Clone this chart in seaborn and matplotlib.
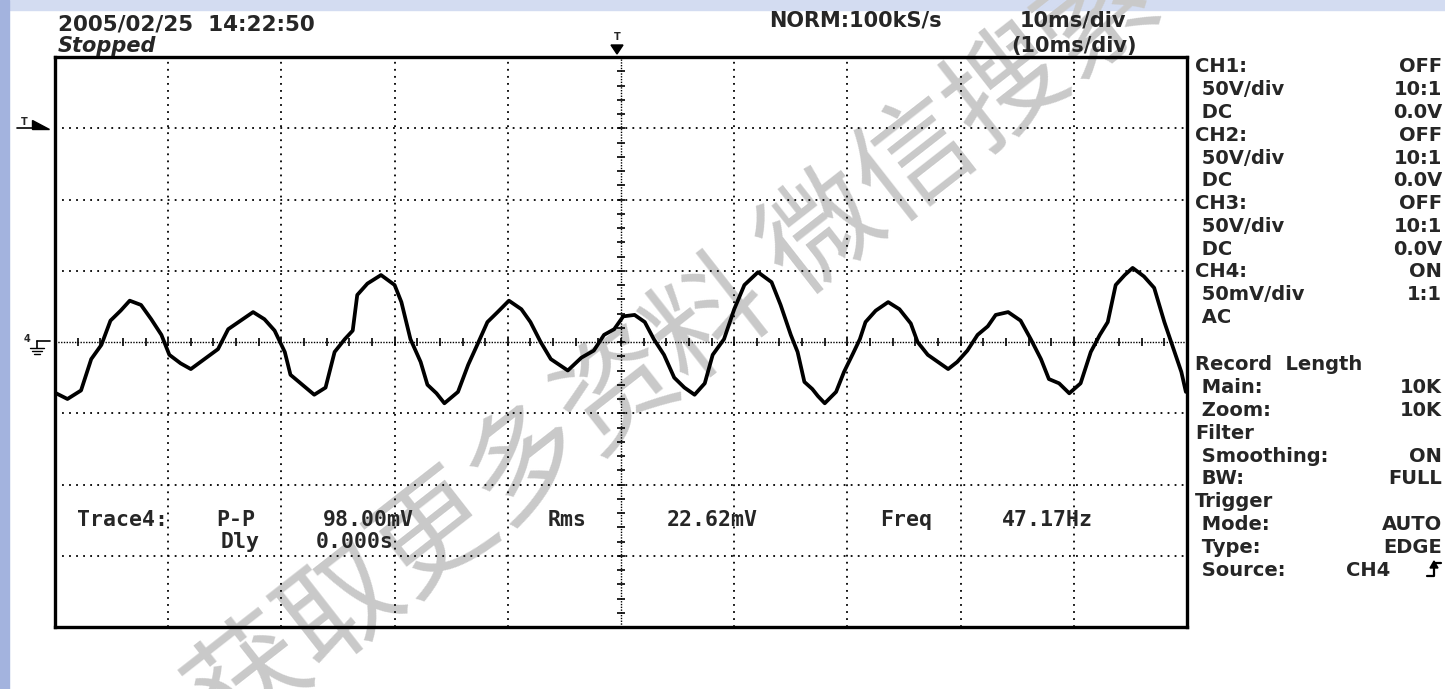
import numpy as np
import pandas as pd
import matplotlib
matplotlib.use("Agg")
import matplotlib.pyplot as plt
import seaborn as sns
from matplotlib.patches import Rectangle, Polygon
from matplotlib.lines import Line2D

# CH4 trace (10 ms/div, 50 mV/div, trigger at centre)
time_ms = [-49.9, -48.9, -47.7, -46.8, -45.9, -45.1, -44.2, -43.4, -42.4, -41.5,
           -40.6, -39.9, -38.9, -38.0, -36.8, -35.6, -34.7, -33.6, -32.5, -31.5,
           -30.6, -29.7, -29.2, -28.3, -27.1, -26.1, -25.3, -24.4, -23.7, -23.3,
           -22.4, -21.2, -20.0, -19.4, -18.6, -17.7, -17.1, -16.3, -15.6, -14.4,
           -13.5, -12.7, -11.8, -10.9, -9.9, -8.8, -8.0, -7.1, -6.2, -4.7,
           -3.5, -2.4, -1.5, -0.6, 0.2, 1.2, 2.1, 2.9, 3.8, 4.7,
           5.6, 6.5, 7.4, 8.1, 9.1, 10.0, 10.9, 12.1, 13.3, 14.1,
           15.0, 15.6, 16.2, 16.9, 17.4, 18.0, 19.0, 19.7, 20.5, 21.1,
           21.6, 22.5, 23.6, 24.6, 25.6, 26.2, 27.1, 28.0, 28.9, 29.7,
           30.6, 31.5, 32.4, 33.1, 34.2, 35.3, 36.2, 37.1, 37.8, 38.7,
           39.6, 40.6, 41.5, 42.3, 43.0, 43.7, 44.5, 45.2, 46.2, 47.1,
           48.0, 48.9, 49.5, 49.9]
volt_mv = [-36, -40, -34, -12, -2, 15, 22, 29, 26, 16,
           5, -9, -15, -19, -12, -5, 9, 15, 21, 16,
           8, -7, -23, -29, -37, -32, -7, 2, 8, 33,
           41, 47, 40, 28, 2, -14, -30, -36, -43, -35,
           -16, -2, 14, 21, 29, 23, 14, 0, -12, -20,
           -11, -6, 5, 9, 18, 19, 14, 2, -9, -25,
           -32, -37, -29, -9, 2, 23, 40, 49, 42, 26,
           5, -7, -28, -33, -38, -43, -35, -21, -8, 2,
           14, 22, 28, 23, 13, 0, -9, -14, -19, -14,
           -6, 5, 11, 19, 21, 15, 2, -12, -26, -29,
           -36, -29, -7, 5, 14, 40, 47, 52, 46, 38,
           14, -7, -21, -35]

# screen texts
date_text = "2005/02/25  14:22:50"
status_text = "Stopped"
rate_text = "NORM:100kS/s"
tb_text = "10ms/div"
zoom_tb_text = "(10ms/div)"

panel_labels = ["CH1:", " 50V/div", " DC", "CH2:", " 50V/div", " DC", "CH3:", " 50V/div", " DC",
                "CH4:", " 50mV/div", " AC", "", "Record  Length", " Main:", " Zoom:", "Filter",
                " Smoothing:", " BW:", "Trigger", " Mode:", " Type:", " Source:"]
panel_values = ["OFF", "10:1", "0.0V", "OFF", "10:1", "0.0V", "OFF", "10:1", "0.0V",
                "ON", "1:1", "", "", "", "10K", "10K", "",
                "ON", "FULL", "", "AUTO", "EDGE", "CH4"]

meas_row1 = ["Trace4:", "P-P", "98.00mV", "Rms", "22.62mV", "Freq", "47.17Hz"]
meas_row2 = ["Dly", "0.000s"]

watermark = "获取更多资料 微信搜索"

# layout in screen pixels
W, H = 1445, 689
def fx(x):
    return x / W
def fy(y):
    return 1 - y / H

sns.set_style("white")
plt.rcParams['font.family'] = ['DejaVu Sans']

fig = plt.figure(figsize=(W / 100, H / 100), dpi=100, facecolor="white")
ax = fig.add_axes([fx(55), fy(627), 1132 / W, 570 / H])
ax.set_facecolor("none")

# slide background strips
fig.add_artist(Rectangle((0, fy(10)), 1, 10 / H, transform=fig.transFigure,
                         color="#d3dcf1", zorder=-3))
fig.add_artist(Rectangle((0, 0), fx(9), 1, transform=fig.transFigure,
                         color="#a3b3de", zorder=-3))

# watermark sits behind the screen content
fig.text(fx(207), fy(718), watermark, family=['Noto Sans CJK SC', 'DejaVu Sans'],
         fontsize=84, color="#c9c9c9", rotation=38, rotation_mode="anchor",
         ha="left", va="center", zorder=-1)

# graticule
for xv in np.arange(-40, 50, 10):
    if xv != 0:
        ax.axvline(xv, color="black", lw=1.3, ls=(0, (1, 2.9)), zorder=1)
for yv in np.arange(-150, 200, 50):
    if yv != 0:
        ax.axhline(yv, color="black", lw=1.3, ls=(0, (1, 2.9)), zorder=1)
ax.axvline(0, color="black", lw=1.0, ls=(0, (1, 1)), zorder=1)
ax.axhline(0, color="black", lw=1.0, ls=(0, (1, 1)), zorder=1)
ax.vlines(np.arange(-48, 50, 2), -2.6, 2.6, color="black", lw=1.2, zorder=1)
ax.hlines(np.arange(-190, 200, 10), -0.32, 0.32, color="black", lw=1.2, zorder=1)

df = pd.DataFrame({"t": time_ms, "v": volt_mv})
sns.lineplot(data=df, x="t", y="v", ax=ax, color="black", linewidth=2.7,
             estimator=None, zorder=3)

ax.set_xlim(-50, 50)
ax.set_ylim(-200, 200)
ax.set_xticks([])
ax.set_yticks([])
ax.set_xlabel("")
ax.set_ylabel("")
for s in ax.spines.values():
    s.set_visible(True)
    s.set_color("black")
    s.set_linewidth(2.4)

# header
fig.text(fx(58), fy(24), date_text, fontsize=15.5, fontweight="bold", va="center")
fig.text(fx(58), fy(46), status_text, fontsize=15, fontweight="bold",
         style="italic", va="center")
fig.text(fx(855), fy(21), rate_text, fontsize=15, fontweight="bold", ha="center", va="center")
fig.text(fx(1073), fy(21), tb_text, fontsize=15, fontweight="bold", ha="center", va="center")
fig.text(fx(1074), fy(46), zoom_tb_text, fontsize=15, fontweight="bold", ha="center", va="center")

# trigger position marker (top) and trigger level / ground markers (left)
fig.text(fx(617), fy(37), "T", fontsize=7, fontweight="bold", ha="center", va="center")
fig.add_artist(Polygon([(fx(611), fy(45)), (fx(623), fy(45)), (fx(617), fy(54))],
                       closed=True, color="black", transform=fig.transFigure))
fig.text(fx(24), fy(122), "T", fontsize=7, fontweight="bold", ha="center", va="center")
fig.add_artist(Line2D([fx(17), fx(32)], [fy(128), fy(128)], color="black", lw=1.2))
fig.add_artist(Polygon([(fx(32), fy(120)), (fx(32), fy(129)), (fx(49), fy(129))],
                       closed=True, color="black", transform=fig.transFigure))
fig.text(fx(27), fy(339), "4", fontsize=7, fontweight="bold", ha="center", va="center")
fig.add_artist(Line2D([fx(37), fx(50)], [fy(341), fy(341)], color="black", lw=1.2))
fig.add_artist(Line2D([fx(37), fx(37)], [fy(341), fy(348)], color="black", lw=1.2))
for y0, half in [(348, 7), (351, 5), (354, 3)]:
    fig.add_artist(Line2D([fx(37 - half), fx(37 + half)], [fy(y0), fy(y0)],
                          color="black", lw=1.0))

# right-hand settings panel
row_y = [67 + 22.75 * i for i in range(12)] + [0] + [365 + 22.8 * i for i in range(10)]
for lab, val, yy in zip(panel_labels, panel_values, row_y):
    if lab:
        fig.text(fx(1195), fy(yy), lab, fontsize=14, fontweight="bold", va="center")
    if val:
        xr = 1390 if val == "CH4" else 1442
        fig.text(fx(xr), fy(yy), val, fontsize=14, fontweight="bold", ha="right", va="center")
# rising-edge trigger slope symbol
sy = 570
fig.add_artist(Line2D([fx(1427), fx(1434), fx(1434), fx(1441)],
                      [fy(sy + 6), fy(sy + 6), fy(sy - 7), fy(sy - 7)], color="black", lw=1.6))
fig.add_artist(Polygon([(fx(1430), fy(sy - 2)), (fx(1438), fy(sy - 2)), (fx(1434), fy(sy - 9))],
                       closed=True, color="black", transform=fig.transFigure))

# measurement readout inside the screen
row1_x = [122, 236, 368, 567, 712, 906, 1047]
for txt, xc in zip(meas_row1, row1_x):
    fig.text(fx(xc), fy(520), txt, family="DejaVu Sans Mono", fontsize=15.5,
             fontweight="bold", ha="center", va="center")
row2_x = [240, 355]
for txt, xc in zip(meas_row2, row2_x):
    fig.text(fx(xc), fy(542), txt, family="DejaVu Sans Mono", fontsize=15.5,
             fontweight="bold", ha="center", va="center")

fig.savefig("out.png", dpi=100, facecolor="white")
